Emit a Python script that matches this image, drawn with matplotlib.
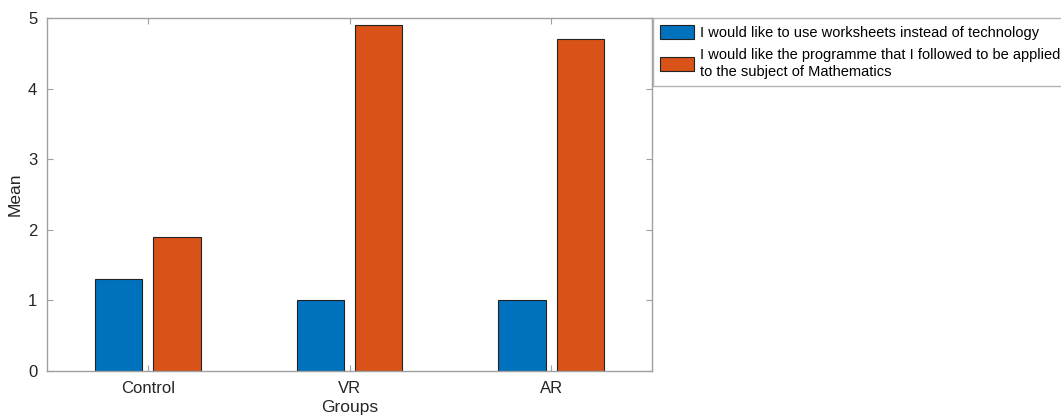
import matplotlib.pyplot as plt
import numpy as np

plt.rcParams['font.family'] = ['Liberation Sans', 'DejaVu Sans']

groups = ['Control', 'VR', 'AR']
worksheets = [1.3, 1.0, 1.0]
programme = [1.9, 4.9, 4.7]
labels = ['I would like to use worksheets instead of technology',
          'I would like the programme that I followed to be applied\nto the subject of Mathematics']
yticks = [0, 1, 2, 3, 4, 5]

fig = plt.figure(figsize=(10.61, 4.19), dpi=100)
ax = fig.add_axes([47/1061, 48/419, (652-47)/1061, (371-18)/419])

x = np.arange(1, len(groups) + 1)
w = 0.235
off = 0.145
ax.bar(x - off, worksheets, w, color='#0072BD', edgecolor='#222222', linewidth=0.8, label=labels[0])
ax.bar(x + off, programme, w, color='#D95319', edgecolor='#222222', linewidth=0.8, label=labels[1])

ax.set_xlim(0.5, 3.5)
ax.set_ylim(0, 5)
ax.set_xticks(x)
ax.set_xticklabels(groups)
ax.set_yticks(yticks)
gray = '#a0a0a0'
for s in ax.spines.values():
    s.set_color(gray)
    s.set_linewidth(1.0)
ax.tick_params(direction='in', top=True, right=True, color=gray, length=4,
               labelsize=12, labelcolor='#262626', pad=7)
ax.set_xlabel('Groups', fontsize=12.5, color='#262626', labelpad=3)
ax.set_ylabel('Mean', fontsize=12.5, color='#262626', labelpad=4)

leg = ax.legend(loc='upper left', bbox_to_anchor=(653/1061, 1 - 18/419),
                bbox_transform=fig.transFigure, fontsize=10.5, frameon=True,
                fancybox=False, edgecolor=gray, borderaxespad=0,
                handlelength=2.35, handleheight=1.1, handletextpad=0.4,
                borderpad=0.45, labelspacing=0.55)
for t in leg.get_texts():
    t.set_linespacing(1.35)
leg.get_frame().set_linewidth(1.0)

fig.savefig('out.png', dpi=100)
